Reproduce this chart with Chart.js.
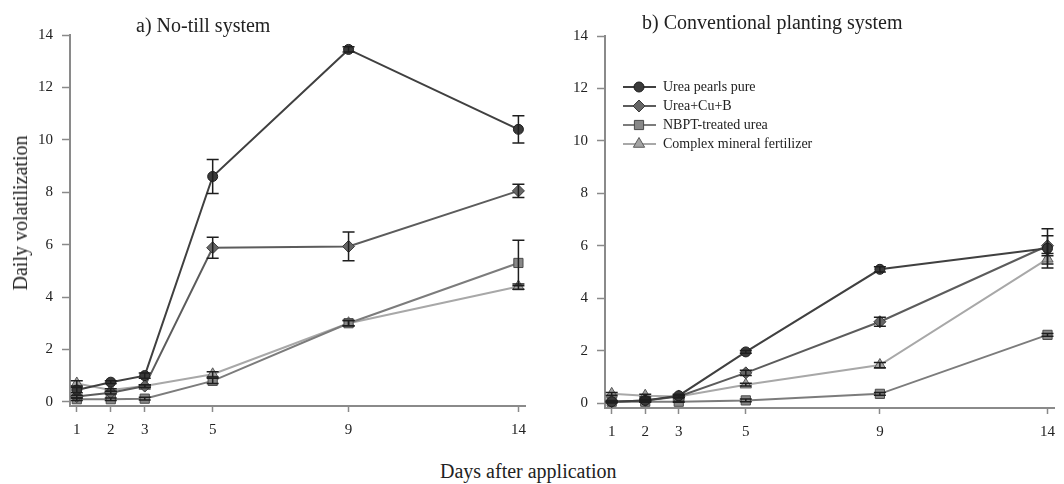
<!DOCTYPE html>
<html>
<head>
<meta charset="utf-8">
<title>Daily volatilization</title>
<script src="https://cdn.jsdelivr.net/npm/chart.js@4.4.0/dist/chart.umd.min.js"></script>
<style>
  body { margin: 0; width: 1064px; height: 484px; background: #fff; position: relative; overflow: hidden;
         font-family: "Liberation Serif", "Times New Roman", serif; color: #222; }
  canvas { position: absolute; top: 0; }
  #chartA { left: 0; }
  #chartB { left: 535px; }
  .label { position: absolute; font-size: 20px; line-height: 20px; white-space: nowrap; }
  #titleA { left: 136px; top: 15px; }
  #titleB { left: 642px; top: 12px; }
  #xTitle { left: 440px; top: 461px; }
  #yTitle { left: 20px; top: 213px; transform: translate(-50%, -50%) rotate(-90deg); }
</style>
</head>
<body>
<canvas id="chartA" width="535" height="440"></canvas>
<canvas id="chartB" width="529" height="440"></canvas>
<div class="label" id="titleA">a) No-till system</div>
<div class="label" id="titleB">b) Conventional planting system</div>
<div class="label" id="xTitle">Days after application</div>
<div class="label" id="yTitle">Daily volatilization</div>
<script>
const days = [1, 2, 3, 5, 9, 14];
const dayTicks = [1, 2, 3, 5, 9, 14];
const yTicks = [0, 2, 4, 6, 8, 10, 12, 14];
const seriesNames = ['Urea pearls pure', 'Urea+Cu+B', 'NBPT-treated urea', 'Complex mineral fertilizer'];

// a) no-till: means and error half-widths per sampling day
const noTillUrea = [0.45, 0.75, 1.0, 8.6, 13.45, 10.4];
const noTillUreaErr = [0.1, 0.05, 0.1, 0.65, 0.1, 0.52];
const noTillCuB = [0.2, 0.35, 0.6, 5.88, 5.93, 8.05];
const noTillCuBErr = [0.05, 0.05, 0.05, 0.4, 0.55, 0.25];
const noTillNbpt = [0.1, 0.1, 0.12, 0.8, 3.0, 5.3];
const noTillNbptErr = [0.05, 0.05, 0.05, 0.1, 0.1, 0.87];
const noTillComplex = [0.7, 0.45, 0.6, 1.05, 3.0, 4.4];
const noTillComplexErr = [0.1, 0.05, 0.05, 0.1, 0.1, 0.1];

// b) conventional planting
const convUrea = [0.05, 0.1, 0.28, 1.95, 5.1, 5.9];
const convUreaErr = [0.05, 0.05, 0.05, 0.05, 0.1, 0.75];
const convCuB = [0.05, 0.1, 0.25, 1.15, 3.1, 6.0];
const convCuBErr = [0.02, 0.02, 0.05, 0.1, 0.17, 0.38];
const convNbpt = [0.05, 0.05, 0.05, 0.1, 0.35, 2.6];
const convNbptErr = [0.02, 0.02, 0.02, 0.05, 0.05, 0.05];
const convComplex = [0.35, 0.28, 0.25, 0.7, 1.45, 5.5];
const convComplexErr = [0.05, 0.05, 0.05, 0.05, 0.1, 0.2];

const looks = [
  { line: '#404040', fill: '#3a3a3a', edge: '#1e1e1e', shape: 'circle', r: 5 },
  { line: '#5c5c5c', fill: '#666666', edge: '#3a3a3a', shape: 'rectRot', r: 6 },
  { line: '#7c7c7c', fill: '#888888', edge: '#4a4a4a', shape: 'rect', r: 6.5 },
  { line: '#a8a8a8', fill: '#a4a4a4', edge: '#5a5a5a', shape: 'triangle', r: 6.5 },
];

const serif = '"Liberation Serif", "Times New Roman", serif';

function makeDatasets(values, errors) {
  return values.map((vals, k) => ({
    label: seriesNames[k],
    data: days.map((d, i) => ({ x: d, y: vals[i] })),
    errors: errors[k],
    borderColor: looks[k].line,
    borderWidth: 2,
    pointStyle: looks[k].shape,
    pointRadius: looks[k].r,
    pointBackgroundColor: looks[k].fill,
    pointBorderColor: looks[k].edge,
    pointBorderWidth: 1,
    tension: 0,
    clip: false,
  }));
}

// vertical error bars with caps, drawn through the scales
const errorBars = {
  id: 'errorBars',
  afterDatasetsDraw(chart) {
    const { ctx, scales: { x, y } } = chart;
    ctx.save();
    ctx.strokeStyle = '#1e1e1e';
    ctx.lineWidth = 1.5;
    chart.data.datasets.forEach(ds => {
      ds.data.forEach((p, i) => {
        const e = ds.errors[i];
        if (!e) return;
        const px = x.getPixelForValue(p.x);
        const top = y.getPixelForValue(p.y + e);
        const bot = y.getPixelForValue(p.y - e);
        ctx.beginPath();
        ctx.moveTo(px, top); ctx.lineTo(px, bot);
        ctx.moveTo(px - 6, top); ctx.lineTo(px + 6, top);
        ctx.moveTo(px - 6, bot); ctx.lineTo(px + 6, bot);
        ctx.stroke();
      });
    });
    ctx.restore();
  }
};

// legend box sitting inside the plot area of panel b
const insideLegend = {
  id: 'insideLegend',
  afterDraw(chart) {
    const { ctx, chartArea } = chart;
    const x0 = chartArea.left + 18;
    const y0 = chartArea.top + 51;
    ctx.save();
    ctx.font = '14px ' + serif;
    ctx.textBaseline = 'middle';
    chart.data.datasets.forEach((ds, i) => {
      const yy = y0 + i * 19;
      ctx.strokeStyle = ds.borderColor;
      ctx.lineWidth = 2;
      ctx.beginPath();
      ctx.moveTo(x0, yy); ctx.lineTo(x0 + 33, yy);
      ctx.stroke();
      ctx.fillStyle = ds.pointBackgroundColor;
      ctx.strokeStyle = ds.pointBorderColor;
      ctx.lineWidth = 1;
      Chart.helpers.drawPoint(ctx, { pointStyle: ds.pointStyle, radius: ds.pointRadius, borderWidth: 1, rotation: 0 }, x0 + 16, yy);
      ctx.fillStyle = '#222';
      ctx.fillText(ds.label, x0 + 40, yy);
    });
    ctx.restore();
  }
};

function makeOptions(yMin, xHeight, padding) {
  return {
    responsive: false,
    animation: false,
    layout: { padding, autoPadding: false },
    plugins: { legend: { display: false }, tooltip: { enabled: false } },
    scales: {
      x: {
        type: 'linear',
        min: 0.8,
        max: 14.2,
        afterBuildTicks: s => { s.ticks = dayTicks.map(v => ({ value: v })); },
        afterFit: s => { s.height = xHeight; },
        grid: { drawOnChartArea: false, drawTicks: true, tickLength: 6, tickColor: '#8a8a8a', tickWidth: 1.5 },
        border: { color: '#8a8a8a', width: 2 },
        ticks: { font: { family: serif, size: 15 }, color: '#222', padding: 9, maxRotation: 0 },
      },
      y: {
        min: yMin,
        max: 14,
        afterBuildTicks: s => { s.ticks = yTicks.map(v => ({ value: v })); },
        afterFit: s => { s.width = 70; },
        grid: { drawOnChartArea: false, drawTicks: true, tickLength: 8, tickColor: '#8a8a8a', tickWidth: 1.5 },
        border: { color: '#8a8a8a', width: 2 },
        ticks: { font: { family: serif, size: 15 }, color: '#222', padding: 9 },
      },
    },
  };
}

new Chart(document.getElementById('chartA'), {
  type: 'line',
  data: {
    datasets: makeDatasets(
      [noTillUrea, noTillCuB, noTillNbpt, noTillComplex],
      [noTillUreaErr, noTillCuBErr, noTillNbptErr, noTillComplexErr]
    ),
  },
  options: makeOptions(-0.16, 34, { top: 35, right: 6, bottom: 0, left: 0 }),
  plugins: [errorBars],
});

new Chart(document.getElementById('chartB'), {
  type: 'line',
  data: {
    datasets: makeDatasets(
      [convUrea, convCuB, convNbpt, convComplex],
      [convUreaErr, convCuBErr, convNbptErr, convComplexErr]
    ),
  },
  options: makeOptions(-0.19, 32, { top: 36, right: 0, bottom: 0, left: 0 }),
  plugins: [errorBars, insideLegend],
});
</script>
</body>
</html>
